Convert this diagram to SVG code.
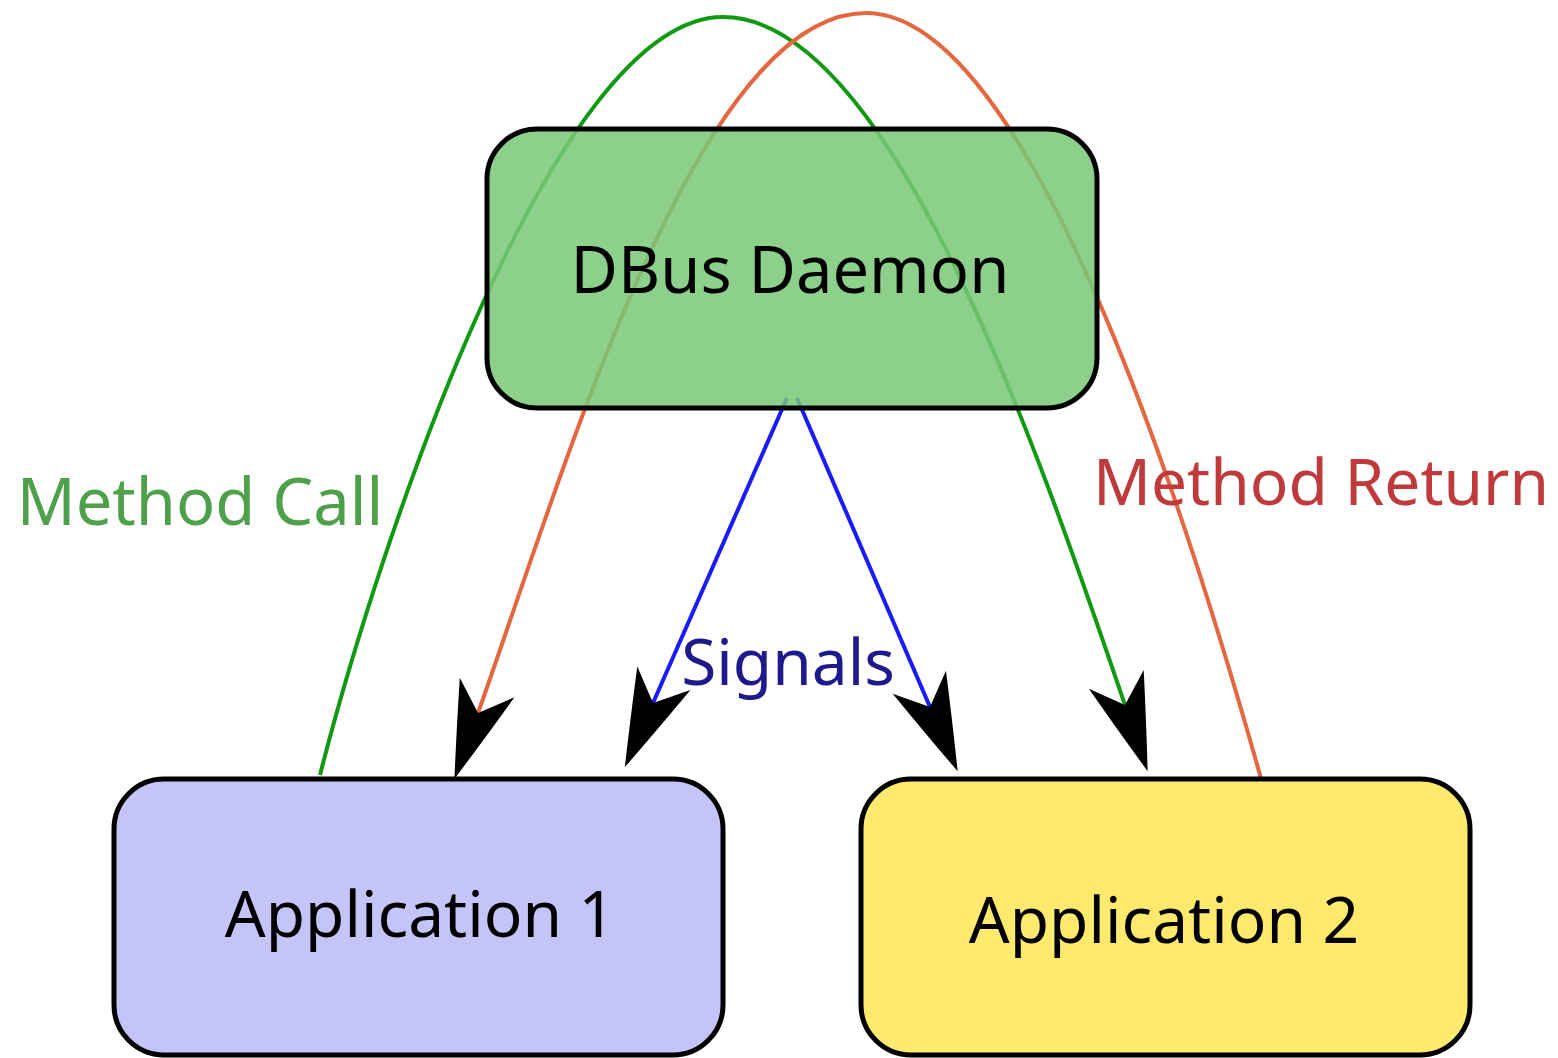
<svg xmlns="http://www.w3.org/2000/svg" width="1558" height="1058" viewBox="0 0 1558 1058">
<style>
.conn{fill:none;stroke-width:4}
.box{stroke:#000;stroke-width:5}
.lbl{font-family:"Noto Sans","Liberation Sans",sans-serif;text-anchor:middle}
</style>
<defs>
<marker id="ah" markerUnits="userSpaceOnUse" markerWidth="200" markerHeight="200" refX="0" refY="0" orient="auto" overflow="visible">
<path d="M70,0 Q25,-14 -27,-29 L0,0 L-27,29 Q25,14 70,0 Z" fill="#000"/>
</marker>
</defs>
<rect width="1558" height="1058" fill="#fff"/>
<g id="connectors">
<path id="method-call" class="conn" stroke="#129912" d="M320,775 C378,547 553,17 723,17 C893,17 1044,468 1125,705" marker-end="url(#ah)"/>
<path id="method-return" class="conn" stroke="#e3683f" d="M1262,782 C1200,561 1036,13 866,13 C696,13 562,478 478,713" marker-end="url(#ah)"/>
<path id="signal-1" class="conn" stroke="#1a1aff" d="M787,398 L653,703" marker-end="url(#ah)"/>
<path id="signal-2" class="conn" stroke="#1a1aff" d="M797,398 L930,707" marker-end="url(#ah)"/>
</g>
<g id="dbus-daemon">
<rect class="box" x="487" y="129" width="610" height="279" rx="50" ry="50" fill="#78c878" fill-opacity="0.85"/>
<text class="lbl" x="790" y="293" font-size="65" fill="#000">DBus Daemon</text>
</g>
<g id="application-1">
<rect class="box" x="114" y="779" width="609" height="276" rx="50" ry="50" fill="#c5c4f8"/>
<text class="lbl" x="420" y="937" font-size="64" fill="#000">Application 1</text>
</g>
<g id="application-2">
<rect class="box" x="861" y="779" width="609" height="276" rx="50" ry="50" fill="#ffea6e"/>
<text class="lbl" x="1164" y="943" font-size="64" fill="#000">Application 2</text>
</g>
<g id="labels">
<text class="lbl" x="200" y="525" font-size="65" fill="#4ea14a">Method Call</text>
<text class="lbl" x="1321" y="505" font-size="64" fill="#c0393b">Method Return</text>
<text class="lbl" x="788" y="685" font-size="64" fill="#1f1a8c">Signals</text>
</g>
</svg>
